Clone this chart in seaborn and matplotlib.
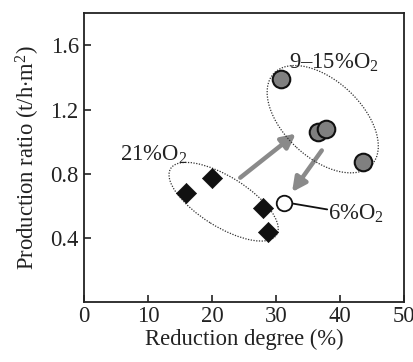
import matplotlib
matplotlib.use("Agg")
import matplotlib.pyplot as plt
import matplotlib.transforms as mtransforms
from matplotlib.patches import Ellipse
import pandas as pd
import seaborn as sns

# 21% O2 (diamonds)
air_reduction = [15.9, 20.0, 27.9, 28.8]
air_ratio = [0.68, 0.77, 0.585, 0.435]

# 9-15% O2 (grey circles)
mid_reduction = [30.8, 36.5, 37.8, 43.6]
mid_ratio = [1.39, 1.06, 1.08, 0.87]

# 6% O2 (open circle)
low_reduction = [31.3]
low_ratio = [0.62]

x_ticks = [0, 10, 20, 30, 40, 50]
y_ticks = [0.4, 0.8, 1.2, 1.6]

sns.set_theme(style="ticks")
plt.rcParams["font.family"] = ["Liberation Serif", "DejaVu Serif"]
plt.rcParams["mathtext.fontset"] = "custom"
plt.rcParams["mathtext.rm"] = "Liberation Serif"
FS = 16.3

fig = plt.figure(figsize=(4.13, 3.62), dpi=100)
ax = fig.add_axes([0.204, 0.166, 0.774, 0.797])

air = pd.DataFrame({"x": air_reduction, "y": air_ratio})
mid = pd.DataFrame({"x": mid_reduction, "y": mid_ratio})
low = pd.DataFrame({"x": low_reduction, "y": low_ratio})

sns.scatterplot(data=air, x="x", y="y", ax=ax, marker="D", s=105,
                color="#111111", edgecolor="#111111", linewidth=0.5, zorder=4)
sns.scatterplot(data=mid, x="x", y="y", ax=ax, marker="o", s=160,
                color="#808080", edgecolor="#111111", linewidth=1.5, zorder=4)
sns.scatterplot(data=low, x="x", y="y", ax=ax, marker="o", s=125,
                color="white", edgecolor="#111111", linewidth=1.3, zorder=4)

ax.set_xlim(0, 50)
ax.set_ylim(0, 1.8)
ax.set_xticks(x_ticks)
ax.set_yticks(y_ticks)
ax.set_xticklabels([str(t) for t in x_ticks], fontsize=FS)
ax.set_yticklabels([f"{t:.1f}" for t in y_ticks], fontsize=FS)
ax.tick_params(direction="in", length=5, width=1.2, color="#222222",
               labelcolor="#222222")
ax.tick_params(axis="x", pad=3)
ax.tick_params(axis="y", pad=4)
for sp in ax.spines.values():
    sp.set_linewidth(1.3)
    sp.set_color("#222222")
ax.set_xlabel("Reduction degree (%)", fontsize=FS, color="#222222", labelpad=1)
ax.set_ylabel(r"Production ratio (t/h$\cdot$m$\mathregular{^2}$)",
              fontsize=FS, color="#222222", labelpad=6)

# dotted group ellipses (sizes in inches, centred on data points)
def group_ellipse(cx, cy, w, h, angle):
    tr = fig.dpi_scale_trans + mtransforms.ScaledTranslation(cx, cy, ax.transData)
    e = Ellipse((0, 0), w, h, angle=angle, transform=tr, fill=False,
                linestyle=(0, (1, 1.2)), linewidth=0.9, edgecolor="#333333", zorder=3)
    ax.add_patch(e)

group_ellipse(21.8, 0.625, 1.25, 0.50, -32)
group_ellipse(37.3, 1.14, 1.34, 0.77, -43)

arrow_style = dict(arrowstyle="-|>,head_length=0.7,head_width=0.35",
                   color="#8a8a8a", lw=3.2, shrinkA=0, shrinkB=0)
ax.annotate("", xy=(33.1, 1.05), xytext=(24.4, 0.775), arrowprops=arrow_style, zorder=2)
ax.annotate("", xy=(32.5, 0.685), xytext=(37.15, 0.945), arrowprops=arrow_style, zorder=2)

ax.plot([32.4, 38.0], [0.615, 0.577], color="#111111", lw=1.3, zorder=3)

ax.text(10.8, 0.92, r"21%O$\mathregular{_2}$", fontsize=FS, ha="center", va="center", color="#222222")
ax.text(39.0, 1.49, r"9–15%O$\mathregular{_2}$", fontsize=FS, ha="center", va="center", color="#222222")
ax.text(38.2, 0.55, r"6%O$\mathregular{_2}$", fontsize=FS, ha="left", va="center", color="#222222")

fig.savefig("out.png", dpi=100)
